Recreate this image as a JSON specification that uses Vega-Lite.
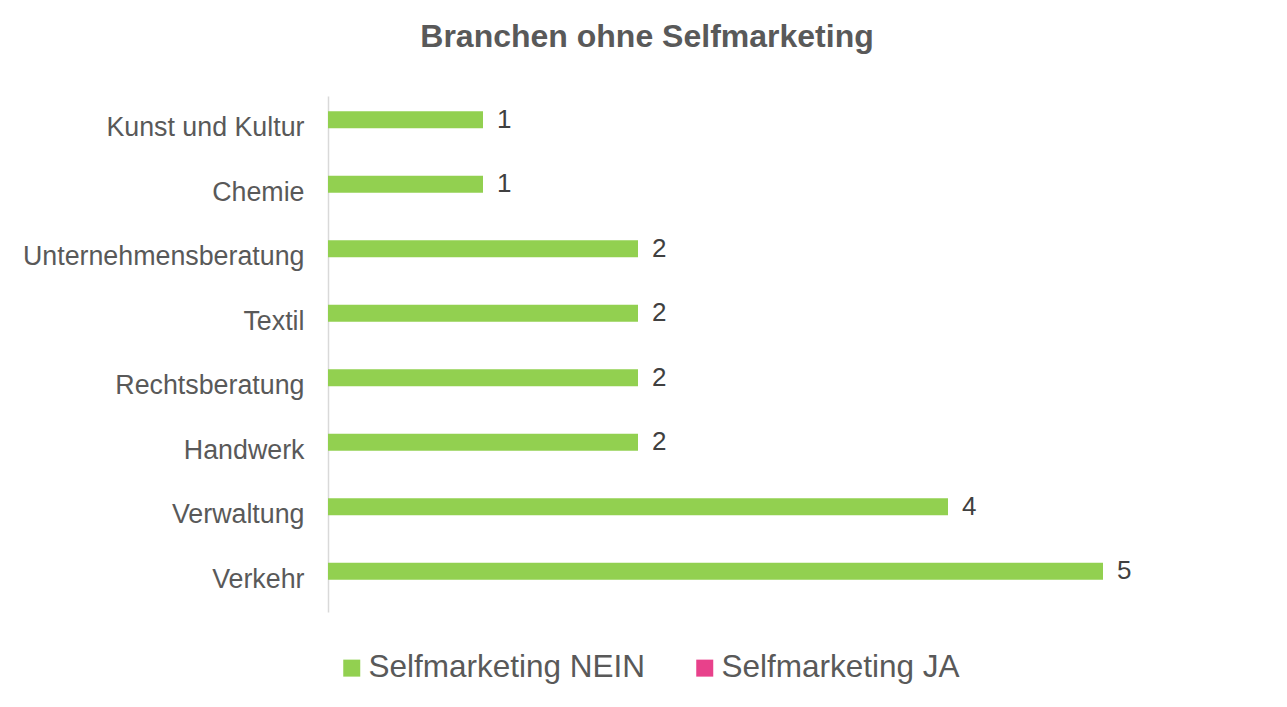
{
  "$schema": "https://vega.github.io/schema/vega-lite/v6.json",
  "width": 930,
  "height": 516,
  "autosize": {"type": "none"},
  "padding": {"left": 328, "top": 96, "right": 29, "bottom": 95},
  "background": "white",
  "config": {"view": {"stroke": null}, "font": "Liberation Sans"},
  "title": {
    "text": "Branchen ohne Selfmarketing",
    "fontSize": 32,
    "fontWeight": "bold",
    "color": "#595959",
    "anchor": "middle",
    "frame": "group",
    "dx": -146,
    "dy": 27,
    "baseline": "alphabetic",
    "offset": 44
  },
  "data": {
    "values": [
      {"branche": "Kunst und Kultur", "serie": "Selfmarketing NEIN", "anzahl": 1},
      {"branche": "Chemie", "serie": "Selfmarketing NEIN", "anzahl": 1},
      {"branche": "Unternehmensberatung", "serie": "Selfmarketing NEIN", "anzahl": 2},
      {"branche": "Textil", "serie": "Selfmarketing NEIN", "anzahl": 2},
      {"branche": "Rechtsberatung", "serie": "Selfmarketing NEIN", "anzahl": 2},
      {"branche": "Handwerk", "serie": "Selfmarketing NEIN", "anzahl": 2},
      {"branche": "Verwaltung", "serie": "Selfmarketing NEIN", "anzahl": 4},
      {"branche": "Verkehr", "serie": "Selfmarketing NEIN", "anzahl": 5},
      {"branche": "Kunst und Kultur", "serie": "Selfmarketing JA", "anzahl": 0},
      {"branche": "Chemie", "serie": "Selfmarketing JA", "anzahl": 0},
      {"branche": "Unternehmensberatung", "serie": "Selfmarketing JA", "anzahl": 0},
      {"branche": "Textil", "serie": "Selfmarketing JA", "anzahl": 0},
      {"branche": "Rechtsberatung", "serie": "Selfmarketing JA", "anzahl": 0},
      {"branche": "Handwerk", "serie": "Selfmarketing JA", "anzahl": 0},
      {"branche": "Verwaltung", "serie": "Selfmarketing JA", "anzahl": 0},
      {"branche": "Verkehr", "serie": "Selfmarketing JA", "anzahl": 0}
    ]
  },
  "encoding": {
    "y": {
      "field": "branche",
      "type": "nominal",
      "sort": ["Kunst und Kultur", "Chemie", "Unternehmensberatung", "Textil", "Rechtsberatung", "Handwerk", "Verwaltung", "Verkehr"],
      "scale": {"paddingInner": 0.473, "paddingOuter": 0.2365},
      "axis": {
        "title": null,
        "labelFontSize": 26.8,
        "labelColor": "#595959",
        "ticks": false,
        "labelPadding": 24,
        "domainColor": "#d9d9d9",
        "domainWidth": 1.5,
        "labelLimit": 400
      }
    },
    "yOffset": {
      "field": "serie",
      "type": "nominal",
      "scale": {"domain": ["Selfmarketing NEIN", "Selfmarketing JA"], "paddingInner": 0, "paddingOuter": 0}
    },
    "x": {
      "field": "anzahl",
      "type": "quantitative",
      "scale": {"domain": [0, 6]},
      "axis": null
    }
  },
  "layer": [
    {
      "mark": {"type": "bar"},
      "encoding": {
        "color": {
          "field": "serie",
          "type": "nominal",
          "scale": {"domain": ["Selfmarketing NEIN", "Selfmarketing JA"], "range": ["#92D050", "#E8418B"]},
          "legend": {
            "orient": "none",
            "legendX": 8,
            "legendY": 556,
            "direction": "horizontal",
            "title": null,
            "symbolType": "square",
            "symbolSize": 289,
            "symbolStrokeWidth": 0,
            "labelFontSize": 31.5,
            "labelColor": "#595959",
            "labelLimit": 500,
            "columnPadding": 43,
            "labelOffset": 1
          }
        }
      }
    },
    {
      "transform": [{"filter": "datum.serie == 'Selfmarketing NEIN'"}],
      "mark": {"type": "text", "align": "left", "dx": 14, "baseline": "middle", "fontSize": 26, "color": "#404040"},
      "encoding": {
        "text": {"field": "anzahl", "type": "quantitative"}
      }
    }
  ]
}
